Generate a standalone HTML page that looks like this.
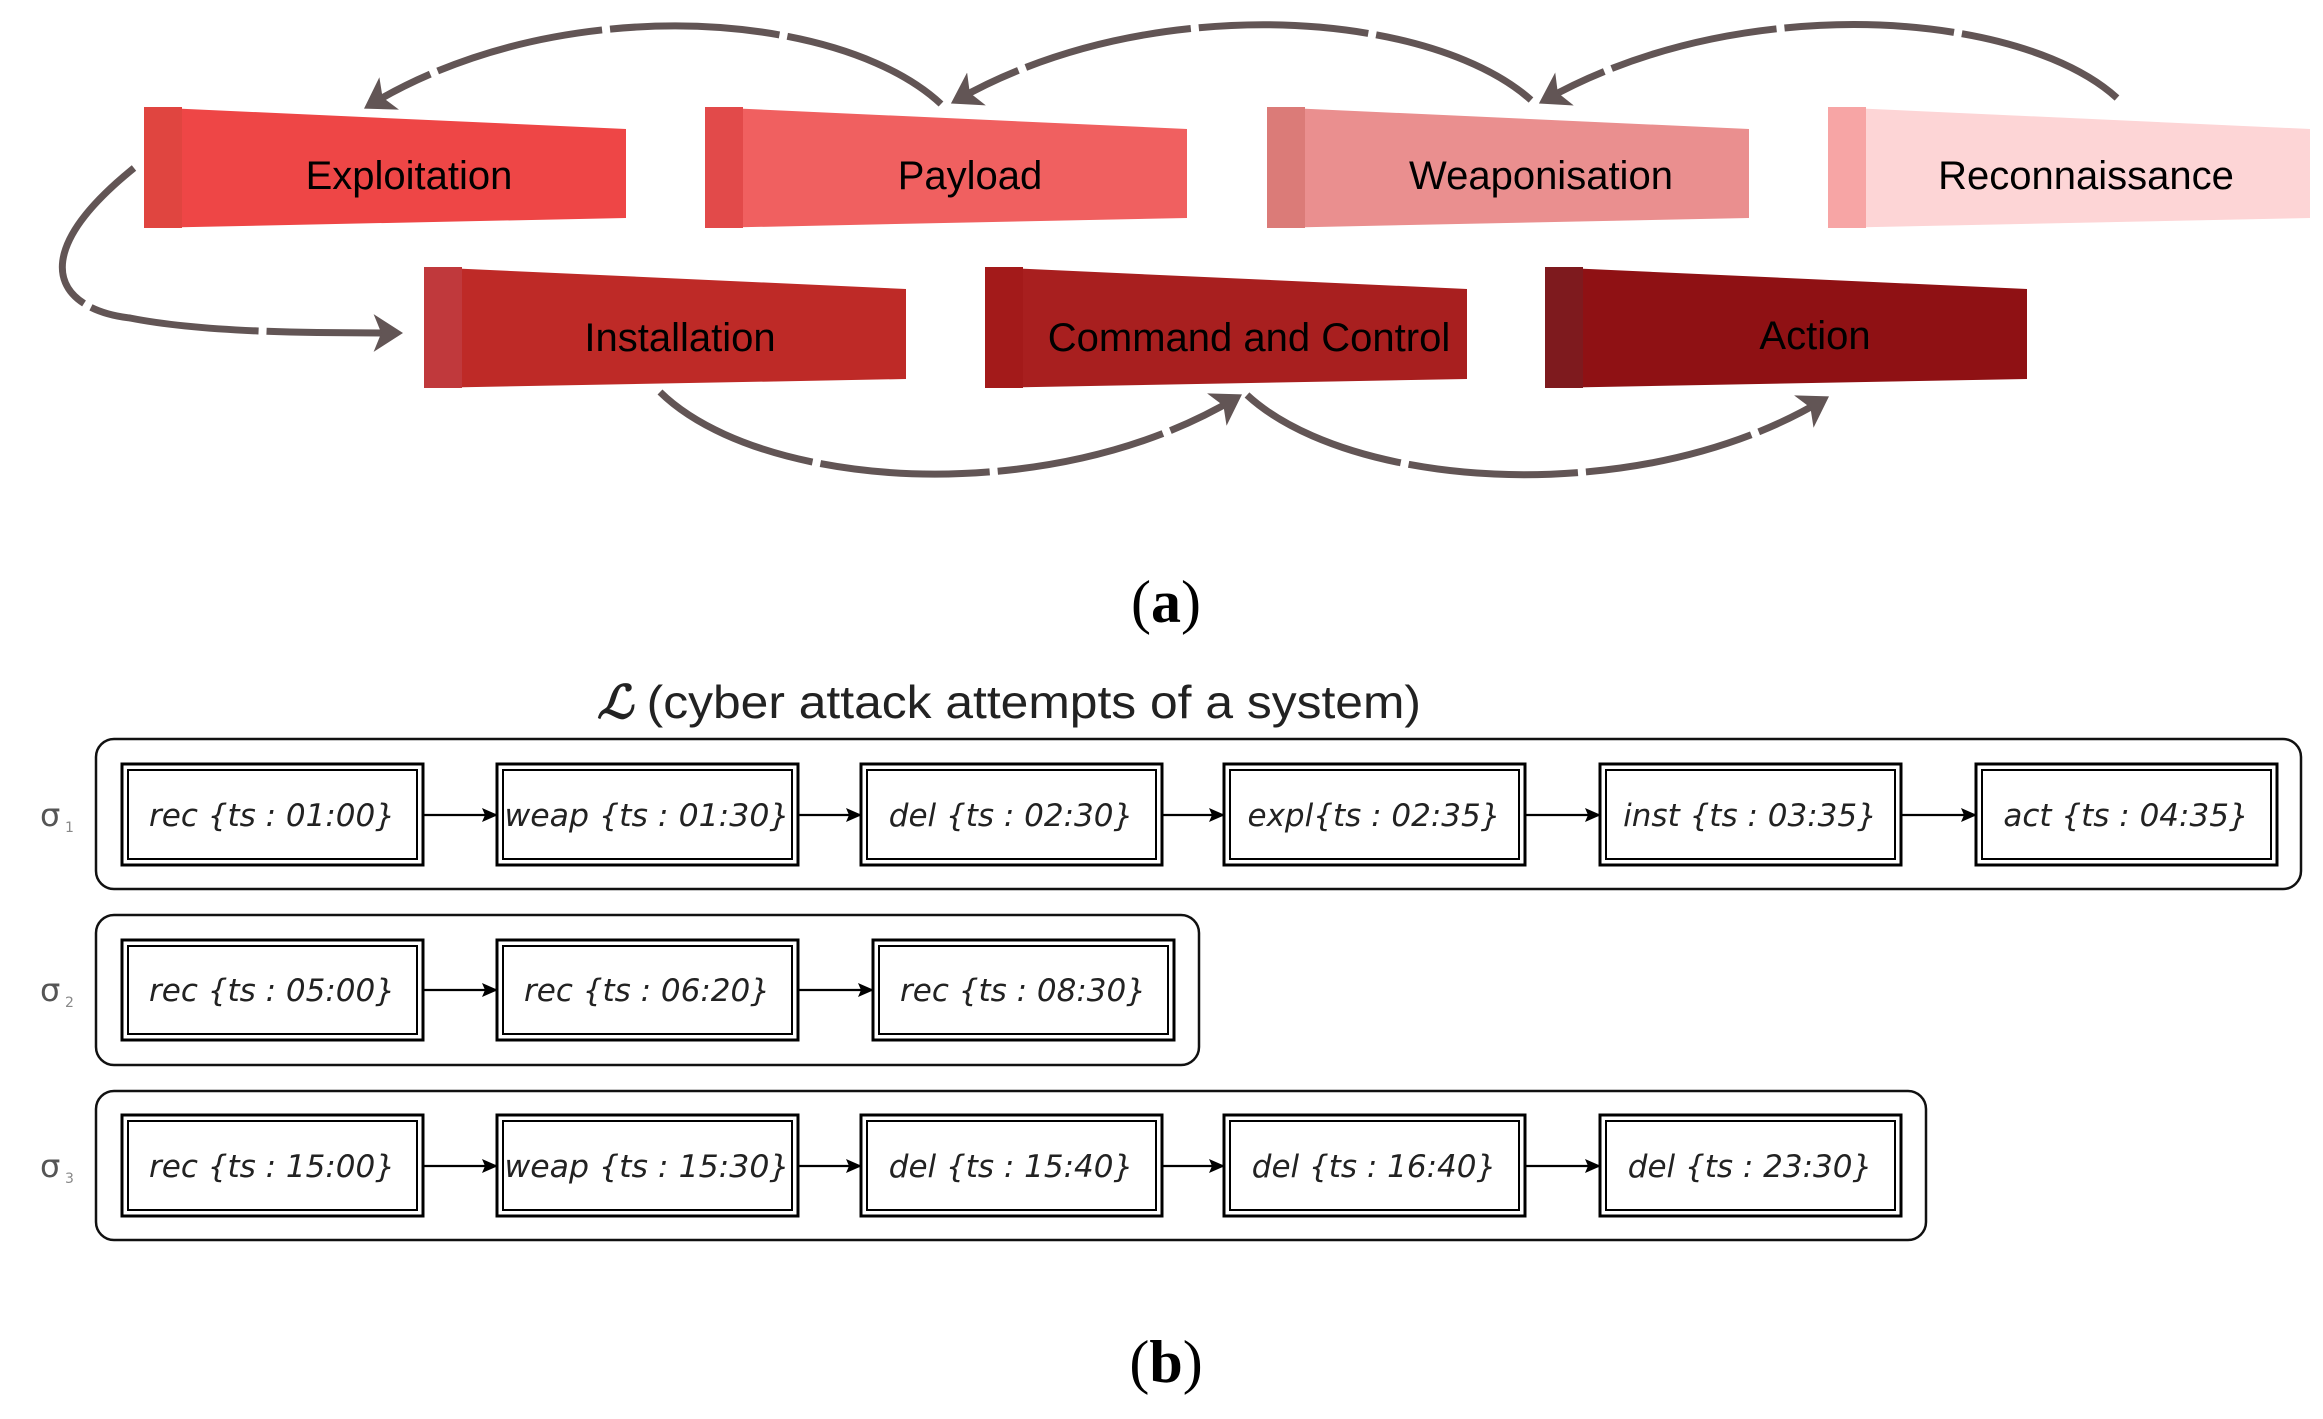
<!DOCTYPE html>
<html><head><meta charset="utf-8"><style>
html,body{margin:0;padding:0;background:#fff;}
svg{display:block;}
.lab{font-family:"Liberation Sans","DejaVu Sans",sans-serif;font-size:40px;fill:#000;}
.ev{font-family:"DejaVu Sans",sans-serif;font-style:italic;font-size:31px;fill:#222;}
.sg{font-family:"DejaVu Sans",sans-serif;font-size:32px;fill:#555;}
.sub{font-family:"DejaVu Sans",sans-serif;font-size:14px;fill:#888;}
</style></head><body>
<svg width="2323" height="1419" viewBox="0 0 2323 1419" xmlns="http://www.w3.org/2000/svg">
<defs>
<marker id="ah" markerWidth="6" markerHeight="6" refX="3.2" refY="3" orient="auto" markerUnits="strokeWidth">
<path d="M0,0.3 L4.2,3 L0,5.7 L1.1,3 Z" fill="#625555"/>
</marker>
<marker id="bk" markerWidth="16" markerHeight="14" refX="15" refY="7" orient="auto" markerUnits="userSpaceOnUse">
<path d="M0,0 L16,7 L0,14 L3,7 Z" fill="#000"/>
</marker>
</defs>

<g>
<polygon points="144,107 626,129 626,218 144,228" fill="#EE4646"/>
<rect x="144" y="107" width="38" height="121" fill="#E04540"/>
<text class="lab" x="409" y="189" text-anchor="middle">Exploitation</text>

<polygon points="705,107 1187,129 1187,218 705,228" fill="#F06060"/>
<rect x="705" y="107" width="38" height="121" fill="#E24A4A"/>
<text class="lab" x="970" y="189" text-anchor="middle">Payload</text>

<polygon points="1267,107 1749,129 1749,218 1267,228" fill="#EA8F8F"/>
<rect x="1267" y="107" width="38" height="121" fill="#DB7B78"/>
<text class="lab" x="1541" y="189" text-anchor="middle">Weaponisation</text>

<polygon points="1828,107 2310,129 2310,218 1828,228" fill="#FDD5D6"/>
<rect x="1828" y="107" width="38" height="121" fill="#F7A5A5"/>
<text class="lab" x="2086" y="189" text-anchor="middle">Reconnaissance</text>
</g>
<g>
<polygon points="424,267 906,289 906,379 424,388" fill="#BE2A27"/>
<rect x="424" y="267" width="38" height="121" fill="#C0393C"/>
<text class="lab" x="680" y="351" text-anchor="middle">Installation</text>

<polygon points="985,267 1467,289 1467,379 985,388" fill="#A81F1F"/>
<rect x="985" y="267" width="38" height="121" fill="#A31A1A"/>
<text class="lab" x="1249" y="351" text-anchor="middle">Command and Control</text>

<polygon points="1545,267 2027,289 2027,379 1545,388" fill="#8F1114"/>
<rect x="1545" y="267" width="38" height="121" fill="#7E1A1E"/>
<text class="lab" x="1815" y="349" text-anchor="middle">Action</text>
</g>

<g fill="none" stroke="#625555" stroke-width="7" stroke-dasharray="170 8" marker-end="url(#ah)">
<path d="M941,104 C840,10 560,-10 370,105"/>
<path d="M1531,100 C1430,10 1150,-10 957,100"/>
<path d="M2117,98 C2020,10 1740,-10 1545,100"/>
<path d="M134,168 C20,260 60,310 130,318 C200,332 300,333 396,333"/>
<path d="M660,392 C760,490 1050,510 1236,398"/>
<path d="M1247,395 C1350,490 1640,510 1823,400"/>
</g>

<text x="1166" y="622" text-anchor="middle" style="font-family:'Liberation Serif',serif;font-size:60px;fill:#000">(<tspan font-weight="bold">a</tspan>)</text>

<text x="597" y="718" textLength="824" lengthAdjust="spacingAndGlyphs" style="font-family:'Liberation Sans',sans-serif;font-size:46px;fill:#222"><tspan style="font-family:'Liberation Serif',serif;font-style:italic;font-weight:bold">ℒ</tspan> (cyber attack attempts of a system)</text>

<g fill="none" stroke="#111" stroke-width="2.5">
<rect x="96" y="739" width="2205" height="150" rx="18"/>
<rect x="96" y="915" width="1103" height="150" rx="18"/>
<rect x="96" y="1091" width="1830" height="149" rx="18"/>
</g>

<text class="sg" x="40" y="826">σ</text><text class="sub" x="65" y="832">1</text>
<text class="sg" x="40" y="1001">σ</text><text class="sub" x="65" y="1007">2</text>
<text class="sg" x="40" y="1177">σ</text><text class="sub" x="65" y="1183">3</text>

<g fill="none" stroke="#000">
<g stroke-width="3">
<rect x="122" y="764" width="301" height="101"/><rect x="497" y="764" width="301" height="101"/><rect x="861" y="764" width="301" height="101"/><rect x="1224" y="764" width="301" height="101"/><rect x="1600" y="764" width="301" height="101"/><rect x="1976" y="764" width="301" height="101"/>
<rect x="122" y="940" width="301" height="100"/><rect x="497" y="940" width="301" height="100"/><rect x="873" y="940" width="301" height="100"/>
<rect x="122" y="1115" width="301" height="101"/><rect x="497" y="1115" width="301" height="101"/><rect x="861" y="1115" width="301" height="101"/><rect x="1224" y="1115" width="301" height="101"/><rect x="1600" y="1115" width="301" height="101"/>
</g>
<g stroke-width="2">
<rect x="128" y="770" width="289" height="89"/><rect x="503" y="770" width="289" height="89"/><rect x="867" y="770" width="289" height="89"/><rect x="1230" y="770" width="289" height="89"/><rect x="1606" y="770" width="289" height="89"/><rect x="1982" y="770" width="289" height="89"/>
<rect x="128" y="946" width="289" height="88"/><rect x="503" y="946" width="289" height="88"/><rect x="879" y="946" width="289" height="88"/>
<rect x="128" y="1121" width="289" height="89"/><rect x="503" y="1121" width="289" height="89"/><rect x="867" y="1121" width="289" height="89"/><rect x="1230" y="1121" width="289" height="89"/><rect x="1606" y="1121" width="289" height="89"/>
</g>
</g>

<g stroke="#000" stroke-width="2.2" marker-end="url(#bk)">
<line x1="424" y1="815" x2="497" y2="815"/><line x1="799" y1="815" x2="861" y2="815"/><line x1="1163" y1="815" x2="1224" y2="815"/><line x1="1526" y1="815" x2="1600" y2="815"/><line x1="1902" y1="815" x2="1976" y2="815"/>
<line x1="424" y1="990" x2="497" y2="990"/><line x1="799" y1="990" x2="873" y2="990"/>
<line x1="424" y1="1166" x2="497" y2="1166"/><line x1="799" y1="1166" x2="861" y2="1166"/><line x1="1163" y1="1166" x2="1224" y2="1166"/><line x1="1526" y1="1166" x2="1600" y2="1166"/>
</g>

<g class="ev" text-anchor="middle">
<text x="272" y="826">rec {ts : 01:00}</text>
<text x="647" y="826" textLength="285" lengthAdjust="spacingAndGlyphs">weap {ts : 01:30}</text>
<text x="1011" y="826">del {ts : 02:30}</text>
<text x="1374" y="826">expl{ts : 02:35}</text>
<text x="1750" y="826">inst {ts : 03:35}</text>
<text x="2126" y="826">act {ts : 04:35}</text>
<text x="272" y="1001">rec {ts : 05:00}</text>
<text x="647" y="1001">rec {ts : 06:20}</text>
<text x="1023" y="1001">rec {ts : 08:30}</text>
<text x="272" y="1177">rec {ts : 15:00}</text>
<text x="647" y="1177" textLength="285" lengthAdjust="spacingAndGlyphs">weap {ts : 15:30}</text>
<text x="1011" y="1177">del {ts : 15:40}</text>
<text x="1374" y="1177">del {ts : 16:40}</text>
<text x="1750" y="1177">del {ts : 23:30}</text>
</g>

<text x="1166" y="1382" text-anchor="middle" style="font-family:'Liberation Serif',serif;font-size:60px;fill:#000">(<tspan font-weight="bold">b</tspan>)</text>
</svg>
</body></html>
